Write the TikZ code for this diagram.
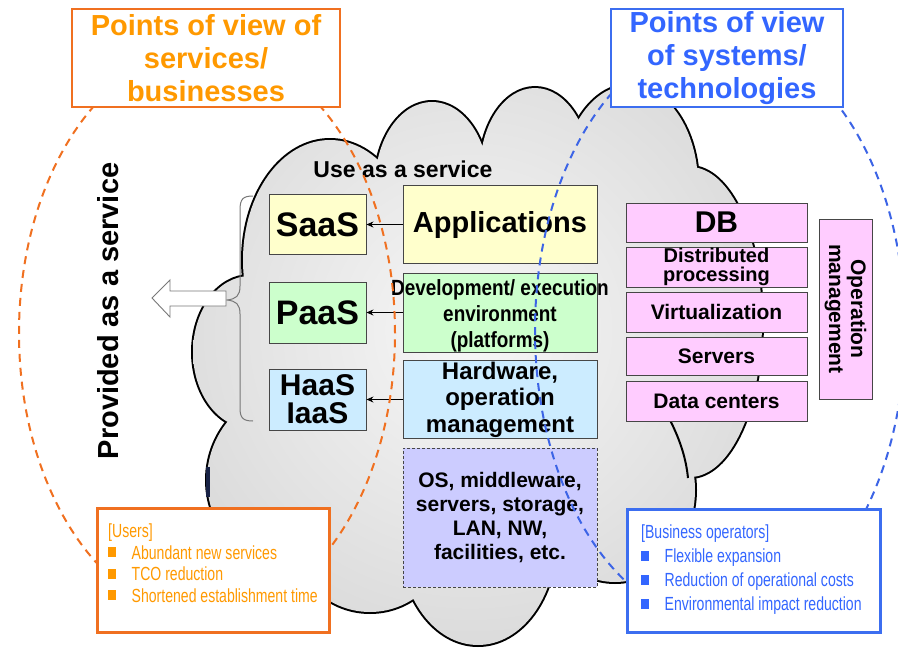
\documentclass[tikz,border=0pt]{standalone}
\usepackage{fontspec}
\setmainfont{Liberation Sans}
\newfontfamily\narrowfont[FakeStretch=0.74]{Liberation Sans}
\newfontfamily\condfont[FakeStretch=0.86]{Liberation Sans}
\usetikzlibrary{arrows.meta}

\newcommand\setfs[2]{\fontsize{#1pt}{#2pt}\selectfont}
\newcommand\sqbullet[1]{\textcolor{#1}{\rule[2pt]{7.5pt}{10pt}}\hspace{16pt}}

\definecolor{orgtext}{RGB}{255,153,0}
\definecolor{orgline}{RGB}{240,112,32}
\definecolor{blutext}{RGB}{51,102,255}
\definecolor{bluline}{RGB}{60,110,240}
\definecolor{bludash}{RGB}{60,100,230}
\definecolor{cloudin}{RGB}{247,247,247}
\definecolor{cloudout}{RGB}{210,210,210}
\definecolor{cloudbar}{RGB}{25,35,70}
\definecolor{bracecol}{RGB}{120,120,120}
\definecolor{boxedge}{RGB}{70,70,70}
\definecolor{yelfill}{RGB}{255,255,204}
\definecolor{grnfill}{RGB}{204,255,204}
\definecolor{blufill}{RGB}{204,236,255}
\definecolor{lavfill}{RGB}{204,204,255}
\definecolor{pinkfill}{RGB}{255,204,255}

\tikzset{
  cloudline/.style={line width=4pt, draw=black},
  ttl/.style={draw, line width=2.5pt, fill=white, minimum height=98pt, inner sep=0pt,
    align=center, font=\setfs{29}{33}\bfseries},
  layer/.style={draw=boxedge, line width=0.9pt, inner sep=0pt},
  pinkbox/.style={layer, fill=pinkfill, minimum width=181pt, align=center},
  lbl/.style={inner sep=0pt, align=center},
  link/.style={-{Stealth[length=7pt,width=6pt]}, line width=0.9pt},
  dashring/.style={dash pattern=on 8pt off 6pt, line width=2pt},
  notebox/.style={line width=3pt, fill=white, inner sep=0pt},
  notes/.style={inner sep=0pt, align=left, anchor=north west},
}

\begin{document}
\begin{tikzpicture}[x=1pt,y=-1pt]
\useasboundingbox (0,0) rectangle (898,648);
\fill[white] (0,0) rectangle (898,648);

% cloud: every bump is stroked, then the union is shaded over the inner half of the strokes
\foreach \cx/\cy/\rx/\ry in {330/260/87/120, 432/185/57/83, 535/170/55/82, 630/185/68/100,
    690/322/72/155, 615/490/80/92, 478/540/78/105, 370/530/80/82, 300/480/93/93, 250/352/57/76}
  \draw[cloudline] (\cx,\cy) ellipse [x radius=\rx pt, y radius=\ry pt];
\begin{scope}
  \clip \foreach \cx/\cy/\rx/\ry in {330/260/87/120, 432/185/57/83, 535/170/55/82, 630/185/68/100,
    690/322/72/155, 615/490/80/92, 478/540/78/105, 370/530/80/82, 300/480/93/93, 250/352/57/76,
    470/350/190/160} {(\cx,\cy) ellipse [x radius=\rx pt, y radius=\ry pt]};
  \shade[inner color=cloudin, outer color=cloudout] (470,330) circle [radius=420pt];
\end{scope}
\draw[line width=2pt] (670,420) .. controls (680,440) and (686,458) .. (688,478);
\draw[line width=3.5pt, draw=cloudbar] (208,467) -- (208,497);

% brace gathering the three service layers, and the hollow arrow
\draw[bracecol, line width=1pt] (253,196) .. controls (243,196) and (240,199) .. (240,210)
  -- (240,286) .. controls (240,296) and (236,299) .. (227,300)
  .. controls (236,301) and (240,304) .. (240,314)
  -- (240,408) .. controls (240,418) and (243,421) .. (253,421);
\draw[bracecol, fill=white, line width=0.9pt] (152,298) -- (170,280) -- (170,291) -- (226,291)
  -- (226,306) -- (170,306) -- (170,317) -- cycle;

% service models
\node[layer, fill=yelfill, minimum width=97pt, minimum height=60pt, font=\setfs{34}{34}\bfseries]
  (saas) at (317.5,224.5) {SaaS};
\node[layer, fill=grnfill, minimum width=97pt, minimum height=61pt, font=\setfs{34}{34}\bfseries]
  (paas) at (317.5,312.5) {PaaS};
\node[layer, fill=blufill, minimum width=97pt, minimum height=61pt, align=center,
  font=\setfs{30}{28}\bfseries] (haas) at (317.5,399.5) {HaaS\\IaaS};

% stack of layers
\node[layer, fill=yelfill, minimum width=194pt, minimum height=78pt, font=\setfs{29}{29}\bfseries]
  (app) at (500,224.5) {Applications};
\node[layer, fill=grnfill, minimum width=194pt, minimum height=79pt] (dev) at (500,312.5) {};
\node[lbl, font=\condfont\setfs{22}{26}\bfseries] (devtxt) at (500,316)
  {Development/ execution\\environment\\(platforms)};
\node[layer, fill=blufill, minimum width=194pt, minimum height=78pt, align=center,
  font=\setfs{24}{26.5}\bfseries] (hw) at (500,399.5) {Hardware,\\operation\\management};
\node[layer, dash pattern=on 3pt off 2pt, fill=lavfill, minimum width=194pt, minimum height=139pt,
  align=center, font=\setfs{21}{23.7}\bfseries] (os) at (500,517.5)
  {OS, middleware,\\servers, storage,\\LAN, NW,\\facilities, etc.};

\draw[link] (app.west) -- (saas.east);
\draw[link] (dev.west) -- (paas.east);
\draw[link] (hw.west) -- (haas.east);

% technology elements
\node[pinkbox, minimum height=39pt, font=\setfs{30}{30}\bfseries] (db) at (716.5,222.5) {DB};
\node[pinkbox, minimum height=40pt, font=\setfs{20}{19}\bfseries] (dist) at (716.5,267)
  {Distributed\\processing};
\node[pinkbox, minimum height=40pt, font=\setfs{21}{21}\bfseries] (virt) at (716.5,312) {Virtualization};
\node[pinkbox, minimum height=38pt, font=\setfs{21}{21}\bfseries] (srv) at (716.5,356) {Servers};
\node[pinkbox, minimum height=40pt, font=\setfs{21}{21}\bfseries] (dc) at (716.5,401) {Data centers};
\node[layer, fill=pinkfill, rotate=-90, minimum width=180pt, minimum height=53pt, align=center,
  font=\setfs{21}{22}\bfseries] (opm) at (845.5,309) {Operation\\management};

% free labels
\node[lbl, font=\setfs{23}{23}\bfseries] (use) at (403,169) {Use as a service};
\node[lbl, rotate=90, font=\setfs{29}{29}\bfseries] (prov) at (108,311) {Provided as a service};

% the two viewpoints
\draw[dashring, draw=orgline] (207,333) ellipse [x radius=188pt, y radius=284pt];
\draw[dashring, draw=bludash] (720,330) ellipse [x radius=185pt, y radius=292pt];

\node[ttl, draw=orgline, text=orgtext, minimum width=268pt] (pvs) at (206,58)
  {Points of view of\\services/\\businesses};
\node[ttl, draw=bluline, text=blutext, minimum width=232pt] (pvt) at (727,58)
  {Points of view\\of systems/\\technologies};

\node[notebox, draw=orgline, minimum width=232pt, minimum height=124pt] (users) at (213,570) {};
\node[notes, text=orgtext, font=\narrowfont\setfs{19}{21.5}] (usertxt) at (108,524)
  {[Users]\\\sqbullet{orgtext}Abundant new services\\\sqbullet{orgtext}TCO reduction\\%
   \sqbullet{orgtext}Shortened establishment time};

\node[notebox, draw=bluline, minimum width=253pt, minimum height=123pt] (biz) at (753.5,570.5) {};
\node[notes, text=blutext, font=\narrowfont\setfs{19}{24}] (biztxt) at (641,525)
  {[Business operators]\\\sqbullet{blutext}Flexible expansion\\%
   \sqbullet{blutext}Reduction of operational costs\\\sqbullet{blutext}Environmental impact reduction};
\end{tikzpicture}
\end{document}
